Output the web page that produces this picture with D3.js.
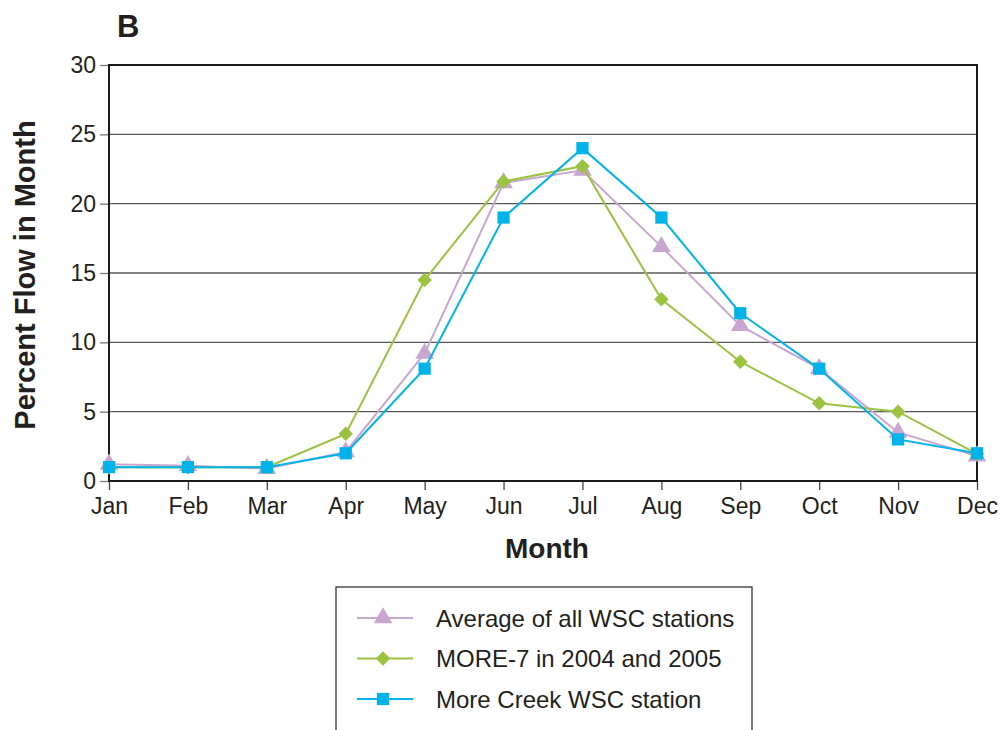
<!DOCTYPE html>
<html>
<head>
<meta charset="utf-8">
<script src="https://cdn.jsdelivr.net/npm/d3@7"></script>
<style>
body { margin: 0; background: #fff; }
text { font-family: "Liberation Sans", Arial, sans-serif; fill: #231f20; }
</style>
</head>
<body>
<script>
// data
var months = ["Jan","Feb","Mar","Apr","May","Jun","Jul","Aug","Sep","Oct","Nov","Dec"];
var avgAll = [1.2, 1.1, 0.9, 2.1, 9.2, 21.5, 22.4, 16.9, 11.2, 8.1, 3.5, 1.8];
var more7 = [1.0, 1.0, 1.0, 3.4, 14.5, 21.6, 22.7, 13.1, 8.6, 5.6, 5.0, 1.95];
var moreCreek = [1.0, 1.0, 1.0, 2.0, 8.1, 19.0, 24.0, 19.0, 12.1, 8.1, 3.0, 2.0];
var yTicks = [0, 5, 10, 15, 20, 25, 30];

// diamond = square turned 45 degrees
var series = [
  {name: "Average of all WSC stations", values: avgAll, color: "#c9a6d0", shape: d3.symbolTriangle, size: 150, rot: 0},
  {name: "MORE-7 in 2004 and 2005", values: more7, color: "#9bc33f", shape: d3.symbolSquare, size: 105, rot: 45},
  {name: "More Creek WSC station", values: moreCreek, color: "#00b4ea", shape: d3.symbolSquare, size: 150, rot: 0}
];

var margin = {top: 65, right: 26, bottom: 249, left: 109},
    width = 1003 - margin.left - margin.right,
    height = 730 - margin.top - margin.bottom;

var svg = d3.select("body").append("svg")
    .attr("width", 1003)
    .attr("height", 730);

var g = svg.append("g")
    .attr("transform", "translate(" + margin.left + "," + margin.top + ")");

var x = d3.scalePoint().domain(months).range([0, width]);
var y = d3.scaleLinear().domain([0, 30]).range([height, 0]);

// gridlines
g.append("g").selectAll("line")
  .data(yTicks.filter(function(d) { return d > 0 && d < 30; }))
  .enter().append("line")
  .attr("x1", 0).attr("x2", width)
  .attr("y1", function(d) { return y(d); })
  .attr("y2", function(d) { return y(d); })
  .attr("stroke", "#5a5a5a")
  .attr("stroke-width", 1.3);

// y axis
var yAxis = g.append("g")
  .call(d3.axisLeft(y).tickValues(yTicks).tickSize(9).tickPadding(4));
yAxis.select(".domain").remove();
yAxis.selectAll(".tick line").attr("stroke", "#777").attr("stroke-width", 1.3);
yAxis.selectAll(".tick text").attr("font-size", 23).attr("fill", "#231f20")
  .attr("font-family", "Liberation Sans, Arial, sans-serif");

// x axis
var xAxis = g.append("g")
  .attr("transform", "translate(0," + height + ")")
  .call(d3.axisBottom(x).tickSize(9).tickPadding(8));
xAxis.select(".domain").remove();
xAxis.selectAll(".tick line").attr("stroke", "#444").attr("stroke-width", 1.3);
xAxis.selectAll(".tick text").attr("font-size", 23).attr("fill", "#231f20")
  .attr("font-family", "Liberation Sans, Arial, sans-serif");

// frame
g.append("rect")
  .attr("width", width).attr("height", height)
  .attr("fill", "none").attr("stroke", "#1a1a1a").attr("stroke-width", 2);

// lines and markers
var line = d3.line()
  .x(function(d, i) { return x(months[i]); })
  .y(function(d) { return y(d); });

series.forEach(function(s) {
  var sg = g.append("g");
  sg.append("path")
    .datum(s.values)
    .attr("d", line)
    .attr("fill", "none")
    .attr("stroke", s.color)
    .attr("stroke-width", 2);
  sg.selectAll("path.pt")
    .data(s.values)
    .enter().append("path")
    .attr("class", "pt")
    .attr("transform", function(d, i) { return "translate(" + x(months[i]) + "," + y(d) + ") rotate(" + s.rot + ")"; })
    .attr("d", d3.symbol().type(s.shape).size(s.size))
    .attr("fill", s.color);
});

// titles
svg.append("text")
  .attr("x", 117).attr("y", 37)
  .attr("font-size", 31).attr("font-weight", "bold")
  .text("B");

svg.append("text")
  .attr("x", 547).attr("y", 558)
  .attr("text-anchor", "middle")
  .attr("font-size", 28).attr("font-weight", "bold")
  .text("Month");

svg.append("text")
  .attr("transform", "translate(35,275) rotate(-90)")
  .attr("text-anchor", "middle")
  .attr("font-size", 29).attr("font-weight", "bold")
  .text("Percent Flow in Month");

// legend
var legend = svg.append("g").attr("transform", "translate(336,587)");
legend.append("rect")
  .attr("width", 416).attr("height", 160)
  .attr("fill", "#fff").attr("stroke", "#333").attr("stroke-width", 1.3);

var rows = legend.selectAll("g.row")
  .data(series)
  .enter().append("g")
  .attr("class", "row")
  .attr("transform", function(d, i) { return "translate(0," + (31 + i * 40.5) + ")"; });
rows.append("line")
  .attr("x1", 21).attr("x2", 77)
  .attr("stroke", function(d) { return d.color; })
  .attr("stroke-width", 2);
rows.append("path")
  .attr("transform", function(d) { return "translate(47,0) rotate(" + d.rot + ")"; })
  .attr("d", function(d) { return d3.symbol().type(d.shape).size(d.size)(); })
  .attr("fill", function(d) { return d.color; });
rows.append("text")
  .attr("x", 100).attr("y", 8.5)
  .attr("font-size", 24)
  .text(function(d) { return d.name; });
</script>
</body>
</html>
